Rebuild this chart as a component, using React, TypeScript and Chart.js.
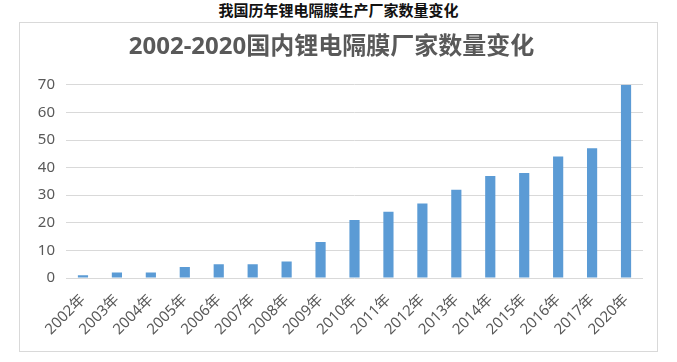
import React, { useEffect, useRef } from "react";
import { Chart, registerables } from "chart.js";

Chart.register(...registerables);

const pageTitle = "我国历年锂电隔膜生产厂家数量变化";
const chartTitle = "2002-2020国内锂电隔膜厂家数量变化";
const years = [
  "2002年", "2003年", "2004年", "2005年", "2006年", "2007年", "2008年", "2009年",
  "2010年", "2011年", "2012年", "2013年", "2014年", "2015年", "2016年", "2017年", "2020年",
];
const counts = [1, 2, 2, 4, 5, 5, 6, 13, 21, 24, 27, 32, 37, 38, 44, 47, 70];
const yTicks = [0, 10, 20, 30, 40, 50, 60, 70];

const FONT = "'Noto Sans', 'Noto Sans CJK SC', sans-serif";

export default function App() {
  const ref = useRef<HTMLCanvasElement | null>(null);

  useEffect(() => {
    document.body.style.margin = "0";
    const ctx = ref.current!;
    const chart = new Chart(ctx, {
      type: "bar",
      data: {
        labels: years,
        datasets: [
          {
            data: counts,
            backgroundColor: "#5B9BD5",
            borderWidth: 0,
            categoryPercentage: 1,
            barPercentage: 0.3,
          },
        ],
      },
      options: {
        animation: false,
        responsive: false,
        maintainAspectRatio: false,
        layout: { padding: { left: 0, right: 14, top: 0, bottom: 0 } },
        plugins: {
          legend: { display: false },
          tooltip: { enabled: false },
          title: {
            display: true,
            text: chartTitle,
            color: "#595959",
            font: { family: FONT, size: 24, weight: "bold" },
            padding: { top: 10, bottom: 23 },
          },
        },
        scales: {
          x: {
            grid: { display: false, drawTicks: false },
            border: { display: false },
            ticks: {
              color: "#595959",
              font: { family: FONT, size: 15 },
              minRotation: 45,
              maxRotation: 45,
              autoSkip: false,
              padding: 13,
            },
            afterFit: (s: any) => {
              s.height = 73;
            },
          },
          y: {
            min: 0,
            max: 70,
            afterBuildTicks: (s: any) => {
              s.ticks = yTicks.map((v) => ({ value: v }));
            },
            grid: { color: "#d9d9d9", drawTicks: false, lineWidth: 1 },
            border: { display: false },
            ticks: {
              color: "#595959",
              font: { family: FONT, size: 15 },
              padding: 11,
            },
            afterFit: (s: any) => {
              s.width = 46;
            },
          },
        },
      },
    });
    return () => chart.destroy();
  }, []);

  return (
    <div style={{ position: "relative", width: 677, height: 362, background: "#fff", overflow: "hidden" }}>
      <div
        style={{
          position: "absolute",
          left: 0,
          top: 0,
          width: 677,
          textAlign: "center",
          fontFamily: "'Noto Sans CJK SC', sans-serif",
          fontWeight: "bold",
          fontSize: 15,
          lineHeight: "20px",
          color: "#111",
        }}
      >
        {pageTitle}
      </div>
      <div
        style={{
          position: "absolute",
          left: 19,
          top: 22,
          width: 637,
          height: 328,
          border: "1px solid #d9d9d9",
          background: "#fff",
        }}
      >
        <canvas ref={ref} width={637} height={328} style={{ display: "block", width: 637, height: 328 }} />
      </div>
    </div>
  );
}
